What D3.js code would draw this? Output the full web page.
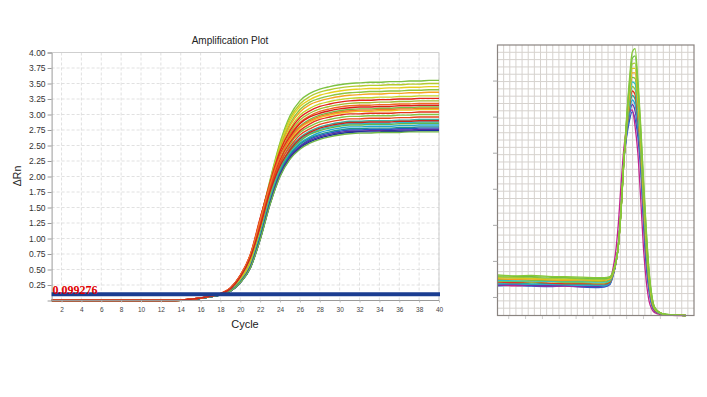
<!DOCTYPE html>
<html><head><meta charset="utf-8">
<script src="https://cdn.jsdelivr.net/npm/d3@7"></script>
<style>body{margin:0;background:#fff}svg{display:block}</style>
</head><body>
<svg id="c" width="707" height="397"></svg>
<script>
// ---------------- Amplification plot data ----------------
const cycles = [1,2,3,4,5,6,7,8,9,10,11,12,13,14,15,16,17,18,19,20,21,22,23,24,25,26,27,28,29,30,31,32,33,34,35,36,37,38,39,40];
const xTickLabels = [2,4,6,8,10,12,14,16,18,20,22,24,26,28,30,32,34,36,38,40];
const yTickLabels = [0.25,0.5,0.75,1.0,1.25,1.5,1.75,2.0,2.25,2.5,2.75,3.0,3.25,3.5,3.75,4.0];
const threshold = 0.099276;
const ampColors = ["#7dc242","#b5cc2e","#e6cf1f","#8dc63f","#f5a623","#c3d62b","#a3bd32","#6dbe46","#f2c41c","#84c341",
  "#3fae9a","#2bbcd4","#5fb54d","#1fa6cc","#1f9488","#2456c4","#5b2d9e","#1a2f9c","#72b84a",
  "#e3261b","#ef6a22","#d91e18","#e2321a","#e8471f","#f07a2a","#c8281c"];
const ampSeries = [
 [0,0,0,0,0,0,0,0,0,0,0,0, 0,.005,.02,.04,.065,.10,.18,.34,.65,1.30,1.95,2.55,2.98,3.22,3.34,3.41,3.45,3.48,3.50,3.51,3.52,3.52,3.53,3.53,3.54,3.54,3.55,3.55],
 [0,0,0,0,0,0,0,0,0,0,0,0, 0,.005,.015,.035,.06,.09,.18,.34,.64,1.28,1.93,2.52,2.94,3.17,3.29,3.36,3.40,3.43,3.45,3.46,3.47,3.47,3.48,3.48,3.49,3.49,3.50,3.50],
 [0,0,0,0,0,0,0,0,0,0,0,0, 0,.005,.015,.035,.06,.09,.18,.33,.63,1.26,1.90,2.48,2.90,3.13,3.24,3.31,3.35,3.38,3.40,3.41,3.42,3.42,3.43,3.43,3.44,3.44,3.45,3.45],
 [0,0,0,0,0,0,0,0,0,0,0,0, 0,.005,.015,.035,.06,.09,.17,.33,.63,1.24,1.88,2.45,2.85,3.08,3.20,3.26,3.30,3.33,3.35,3.36,3.37,3.37,3.38,3.38,3.39,3.39,3.40,3.40],
 [0,0,0,0,0,0,0,0,0,0,0,0, 0,.005,.015,.035,.06,.09,.17,.33,.62,1.23,1.86,2.42,2.82,3.04,3.16,3.22,3.26,3.29,3.31,3.32,3.33,3.33,3.34,3.34,3.35,3.35,3.36,3.36],
 [0,0,0,0,0,0,0,0,0,0,0,0, 0,.005,.015,.035,.06,.09,.17,.33,.61,1.20,1.83,2.39,2.77,2.99,3.10,3.17,3.21,3.24,3.26,3.27,3.27,3.28,3.28,3.29,3.29,3.30,3.30,3.30],
 [0,0,0,0,0,0,0,0,0,0,0,0, 0,.005,.015,.035,.06,.09,.16,.32,.60,1.17,1.79,2.33,2.70,2.91,3.02,3.09,3.13,3.16,3.18,3.19,3.19,3.20,3.20,3.21,3.21,3.22,3.22,3.22],
 [0,0,0,0,0,0,0,0,0,0,0,0, 0,.005,.015,.035,.06,.09,.16,.31,.58,1.13,1.74,2.26,2.62,2.81,2.92,2.99,3.03,3.06,3.08,3.09,3.09,3.10,3.10,3.11,3.11,3.12,3.12,3.12],
 [0,0,0,0,0,0,0,0,0,0,0,0, 0,.005,.015,.035,.06,.09,.16,.31,.58,1.12,1.72,2.24,2.58,2.78,2.88,2.95,2.99,3.02,3.04,3.05,3.05,3.06,3.06,3.07,3.07,3.08,3.08,3.08],
 [0,0,0,0,0,0,0,0,0,0,0,0, 0,.005,.015,.035,.06,.09,.16,.31,.56,1.09,1.69,2.19,2.52,2.71,2.81,2.88,2.92,2.95,2.97,2.97,2.98,2.98,2.98,2.99,2.99,3.00,3.00,3.00],
 [0,0,0,0,0,0,0,0,0,0,0,0, 0,.005,.015,.035,.06,.09,.16,.30,.55,1.06,1.65,2.13,2.45,2.63,2.73,2.80,2.84,2.87,2.89,2.89,2.90,2.90,2.90,2.91,2.91,2.92,2.92,2.92],
 [0,0,0,0,0,0,0,0,0,0,0,0, 0,.005,.015,.035,.06,.09,.16,.30,.54,1.04,1.63,2.10,2.41,2.59,2.69,2.76,2.80,2.83,2.85,2.85,2.86,2.86,2.86,2.87,2.87,2.88,2.88,2.88],
 [0,0,0,0,0,0,0,0,0,0,0,0, 0,.005,.015,.035,.06,.09,.15,.30,.54,1.03,1.62,2.09,2.40,2.57,2.68,2.74,2.78,2.81,2.83,2.83,2.84,2.84,2.84,2.85,2.85,2.86,2.86,2.86],
 [0,0,0,0,0,0,0,0,0,0,0,0, 0,.005,.015,.035,.06,.09,.15,.30,.54,1.02,1.60,2.07,2.37,2.54,2.64,2.71,2.75,2.78,2.80,2.80,2.81,2.81,2.81,2.82,2.82,2.83,2.83,2.83],
 [0,0,0,0,0,0,0,0,0,0,0,0, 0,.005,.015,.035,.06,.09,.15,.29,.53,1.01,1.59,2.06,2.35,2.52,2.62,2.68,2.72,2.75,2.77,2.77,2.78,2.78,2.78,2.79,2.79,2.80,2.80,2.80],
 [0,0,0,0,0,0,0,0,0,0,0,0, 0,.005,.015,.035,.06,.09,.15,.29,.53,1.00,1.58,2.04,2.33,2.49,2.60,2.66,2.70,2.73,2.75,2.75,2.76,2.76,2.76,2.77,2.77,2.78,2.78,2.78],
 [0,0,0,0,0,0,0,0,0,0,0,0, 0,.005,.015,.035,.06,.09,.15,.29,.53,.99,1.57,2.03,2.31,2.48,2.58,2.64,2.68,2.71,2.73,2.73,2.74,2.74,2.74,2.75,2.75,2.76,2.76,2.76],
 [0,0,0,0,0,0,0,0,0,0,0,0, 0,.005,.015,.035,.06,.09,.15,.29,.52,.99,1.56,2.01,2.29,2.46,2.56,2.62,2.66,2.69,2.71,2.72,2.72,2.72,2.73,2.73,2.73,2.74,2.74,2.74],
 [0,0,0,0,0,0,0,0,0,0,0,0, 0,.005,.015,.035,.06,.09,.15,.29,.52,.98,1.55,2.00,2.28,2.44,2.54,2.60,2.64,2.67,2.69,2.70,2.70,2.71,2.71,2.71,2.72,2.72,2.72,2.72],
 [0,0,0,0,0,0,0,0,0,0,0,0, 0,.005,.02,.04,.07,.11,.20,.40,.72,1.31,1.91,2.41,2.74,2.95,3.06,3.13,3.17,3.20,3.22,3.23,3.23,3.24,3.24,3.25,3.25,3.26,3.26,3.26],
 [0,0,0,0,0,0,0,0,0,0,0,0, 0,.005,.02,.04,.07,.11,.19,.38,.70,1.28,1.87,2.35,2.67,2.87,2.98,3.05,3.09,3.12,3.14,3.15,3.15,3.16,3.16,3.17,3.17,3.18,3.18,3.18],
 [0,0,0,0,0,0,0,0,0,0,0,0, 0,.005,.02,.04,.07,.11,.20,.41,.74,1.33,1.88,2.35,2.64,2.85,2.96,3.02,3.06,3.09,3.11,3.12,3.12,3.13,3.13,3.14,3.14,3.15,3.15,3.15],
 [0,0,0,0,0,0,0,0,0,0,0,0, 0,.005,.02,.04,.07,.11,.20,.40,.73,1.25,1.83,2.27,2.55,2.74,2.85,2.92,2.96,2.99,3.01,3.01,3.02,3.02,3.02,3.03,3.03,3.04,3.04,3.04],
 [0,0,0,0,0,0,0,0,0,0,0,0, 0,.005,.02,.04,.07,.11,.19,.39,.70,1.21,1.79,2.22,2.48,2.67,2.77,2.84,2.88,2.91,2.93,2.93,2.94,2.94,2.94,2.95,2.95,2.96,2.96,2.96],
 [0,0,0,0,0,0,0,0,0,0,0,0, 0,.005,.02,.04,.07,.11,.20,.40,.73,1.30,1.87,2.33,2.61,2.80,2.90,2.97,3.01,3.04,3.06,3.07,3.07,3.08,3.08,3.09,3.09,3.10,3.10,3.10],
 [0,0,0,0,0,0,0,0,0,0,0,0, 0,.005,.02,.04,.07,.11,.19,.38,.69,1.19,1.76,2.17,2.43,2.61,2.71,2.78,2.82,2.85,2.87,2.87,2.88,2.88,2.88,2.89,2.89,2.90,2.90,2.90]
];

// ---------------- Melt curve data ----------------
const meltTemps = [60,63,66,69,72,75,78,79,80,80.5,81,81.5,82,82.5,83,83.5,84,84.5,85,85.5,86,86.5,87,87.5,88,89,90,92,93.5];
const meltColors = ["#2a5cc8","#c0248e","#6a34a8","#26a8d8","#2fa89a","#e2331d","#8cc63f","#2cc0c8","#7cc043","#f0a020","#d8c81e","#a8cc35","#6fbf44","#86c83a"];
const meltSeries = [
 [.33,.335,.325,.32,.325,.315,.31,.315,.34,.42,.55,.76,1.18,1.72,1.98,2.16,2.26,2.18,1.98,1.62,1.02,.54,.26,.11,.05,.02,.01,.005,0],
 [.34,.33,.335,.325,.325,.32,.325,.33,.38,.50,.68,1.00,1.45,1.85,2.10,2.26,2.28,2.10,1.80,1.30,.75,.38,.16,.07,.03,.01,.005,0,0],
 [.34,.345,.335,.33,.335,.325,.32,.325,.35,.43,.55,.76,1.18,1.72,2.01,2.22,2.34,2.27,2.06,1.70,1.10,.61,.30,.12,.05,.02,.01,.005,0],
 [.35,.35,.345,.345,.34,.335,.335,.33,.355,.43,.56,.76,1.17,1.72,2.02,2.25,2.39,2.34,2.11,1.75,1.17,.66,.32,.13,.06,.02,.01,.005,0],
 [.36,.36,.35,.355,.345,.345,.34,.34,.36,.44,.56,.76,1.17,1.71,2.04,2.29,2.44,2.40,2.16,1.79,1.20,.69,.34,.14,.06,.02,.01,.005,0],
 [.37,.365,.37,.36,.355,.355,.35,.35,.37,.44,.56,.76,1.17,1.71,2.06,2.32,2.49,2.45,2.20,1.82,1.23,.71,.36,.15,.06,.02,.01,.005,0],
 [.38,.38,.37,.375,.365,.365,.36,.36,.38,.45,.56,.76,1.17,1.71,2.07,2.35,2.54,2.51,2.25,1.85,1.26,.74,.37,.16,.07,.02,.01,.005,0],
 [.39,.385,.385,.38,.375,.375,.37,.37,.39,.45,.57,.76,1.17,1.71,2.09,2.39,2.59,2.57,2.30,1.89,1.30,.77,.39,.17,.07,.025,.01,.005,0],
 [.40,.40,.39,.39,.385,.385,.38,.38,.40,.45,.57,.76,1.16,1.71,2.11,2.43,2.64,2.63,2.35,1.93,1.34,.80,.41,.17,.07,.03,.01,.005,0],
 [.41,.40,.405,.395,.39,.395,.385,.39,.405,.46,.57,.76,1.16,1.71,2.12,2.46,2.69,2.69,2.40,1.96,1.37,.83,.42,.18,.08,.03,.01,.005,0],
 [.42,.415,.41,.405,.40,.40,.39,.40,.41,.46,.57,.76,1.16,1.71,2.14,2.49,2.74,2.74,2.44,1.99,1.40,.85,.44,.19,.08,.03,.01,.005,0],
 [.43,.42,.425,.41,.415,.405,.40,.40,.42,.47,.57,.76,1.16,1.70,2.16,2.53,2.79,2.80,2.49,2.03,1.43,.88,.46,.20,.08,.03,.01,.005,0],
 [.44,.435,.43,.425,.42,.415,.41,.41,.42,.47,.58,.76,1.15,1.70,2.18,2.57,2.85,2.88,2.56,2.07,1.48,.92,.48,.21,.09,.03,.015,.005,0],
 [.45,.44,.445,.435,.43,.425,.42,.42,.43,.48,.58,.76,1.15,1.70,2.20,2.62,2.92,2.96,2.62,2.12,1.52,.96,.50,.22,.09,.03,.015,.005,0]
];
const meltYTicks = [0.2,0.6,1.0,1.4,1.8,2.2,2.6];
const meltXTicks = [62,65,68,71,74,77,80,83,86,89,92];

// ---------------- Drawing ----------------
const svg = d3.select("#c");
const FONT = "'Liberation Sans', Arial, sans-serif";

// Left chart
const x = d3.scaleLinear().domain([1,40]).range([51.6,439]);
const y = d3.scaleLinear().domain([0,4]).range([300.5,52.5]);
const gL = svg.append("g");

gL.append("g").selectAll("line").data(xTickLabels).join("line")
  .attr("x1",d=>x(d)).attr("x2",d=>x(d)).attr("y1",y(4)).attr("y2",y(0))
  .attr("stroke","#d9d9d9").attr("stroke-dasharray","3,2").attr("stroke-width",0.8);
gL.append("g").selectAll("line").data(yTickLabels).join("line")
  .attr("x1",x(1)).attr("x2",x(40)).attr("y1",d=>y(d)).attr("y2",d=>y(d))
  .attr("stroke","#d9d9d9").attr("stroke-dasharray","3,2").attr("stroke-width",0.8);
gL.append("path").attr("d",`M${x(1)},${y(4)}H${x(40)}V${y(0)}`).attr("fill","none").attr("stroke","#cfcfcf").attr("stroke-width",1);

svg.append("clipPath").attr("id","clipL").append("rect").attr("x",x(1)).attr("y",y(4)).attr("width",x(40)-x(1)+1).attr("height",y(0)-y(4)+1);
const line = d3.line().x((d,i)=>x(cycles[i])).y(d=>y(d)).curve(d3.curveMonotoneX);
gL.append("g").attr("clip-path","url(#clipL)").selectAll("path").data(ampSeries).join("path")
  .attr("d",line).attr("fill","none").attr("stroke",(d,i)=>ampColors[i]).attr("stroke-width",1.4);

const yAxis = d3.axisLeft(y).tickValues(yTickLabels).tickFormat(d3.format(".2f")).tickSize(4).tickPadding(2);
const ga = gL.append("g").attr("transform",`translate(${x(1)},0)`).call(yAxis);
ga.select(".domain").attr("stroke","#9a9a9a");
ga.selectAll(".tick line").attr("stroke","#9a9a9a");
ga.selectAll("text").attr("font-family",FONT).attr("font-size",8.5).attr("fill","#333");
gL.append("line").attr("x1",x(1)).attr("x2",x(40)).attr("y1",y(0)).attr("y2",y(0)).attr("stroke","#9a9a9a");
const xAxis = d3.axisBottom(x).tickValues(xTickLabels).tickSize(2).tickPadding(5);
const gx = gL.append("g").attr("transform",`translate(0,${y(0)})`).call(xAxis);
gx.select(".domain").remove();
gx.selectAll(".tick line").attr("stroke","#bbb");
gx.selectAll("text").attr("font-family",FONT).attr("font-size",6.5).attr("fill","#444");

gL.append("line").attr("x1",x(1)).attr("x2",x(40)+1).attr("y1",y(threshold)).attr("y2",y(threshold))
  .attr("stroke","#1b3d91").attr("stroke-width",4);
gL.append("text").attr("x",x(1)+1).attr("y",y(threshold)-0.5).text(String(threshold))
  .attr("font-family","'Liberation Serif','Times New Roman',serif").attr("font-weight","bold")
  .attr("font-size",12).attr("fill","#e00000");

svg.append("text").attr("x",230).attr("y",44).attr("text-anchor","middle").text("Amplification Plot")
  .attr("font-family",FONT).attr("font-size",10).attr("fill","#222");
svg.append("text").attr("x",245).attr("y",328).attr("text-anchor","middle").text("Cycle")
  .attr("font-family",FONT).attr("font-size",11).attr("fill","#222");
svg.append("text").attr("transform","translate(21,176) rotate(-90)").attr("text-anchor","middle").text("ΔRn")
  .attr("font-family",FONT).attr("font-size",10.5).attr("fill","#222");

// Right chart (melt curve)
const mx = d3.scaleLinear().domain([60,95]).range([497.5,694]);
const my = d3.scaleLinear().domain([0,3]).range([315.5,45]);
const gR = svg.append("g");
const vCount = 32, hCount = 37;
gR.append("g").selectAll("line").data(d3.range(1,vCount)).join("line")
  .attr("x1",d=>497.5+d*(694-497.5)/vCount).attr("x2",d=>497.5+d*(694-497.5)/vCount)
  .attr("y1",45).attr("y2",315.5).attr("stroke","#d6d2ce").attr("stroke-width",1);
gR.append("g").selectAll("line").data(d3.range(1,hCount)).join("line")
  .attr("y1",d=>45+d*(315.5-45)/hCount).attr("y2",d=>45+d*(315.5-45)/hCount)
  .attr("x1",497.5).attr("x2",694).attr("stroke","#d6d2ce").attr("stroke-width",1);
const mline = d3.line().x((d,i)=>mx(meltTemps[i])).y(d=>my(d)).curve(d3.curveMonotoneX);
gR.append("g").selectAll("path").data(meltSeries).join("path")
  .attr("d",mline).attr("fill","none").attr("stroke",(d,i)=>meltColors[i]).attr("stroke-width",1.3);
gR.append("rect").attr("x",497.5).attr("y",45).attr("width",694-497.5).attr("height",315.5-45)
  .attr("fill","none").attr("stroke","#8a8480").attr("stroke-width",1.2);
gR.append("g").selectAll("line").data(meltYTicks).join("line")
  .attr("x1",493).attr("x2",497.5).attr("y1",d=>my(d)).attr("y2",d=>my(d)).attr("stroke","#aaa");
gR.append("g").selectAll("line").data(meltXTicks).join("line")
  .attr("x1",d=>mx(d)).attr("x2",d=>mx(d)).attr("y1",316).attr("y2",319).attr("stroke","#ccc");
</script>
</body></html>
